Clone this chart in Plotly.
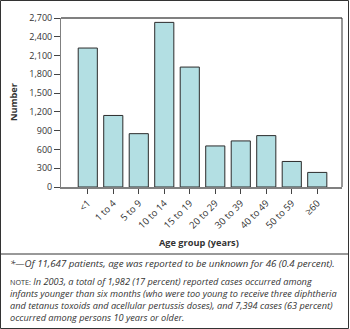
import plotly.graph_objects as go

categories = ["<1", "1 to 4", "5 to 9", "10 to 14", "15 to 19", "20 to 29",
              "30 to 39", "40 to 49", "50 to 59", "≥60"]
values = [2220, 1143, 852, 2630, 1916, 656, 736, 821, 408, 233]
y_ticks = [0, 300, 600, 900, 1200, 1500, 1800, 2100, 2400, 2700]

footnote = "*—Of 11,647 patients, age was reported to be unknown for 46 (0.4 percent)."
note_lines = [
    "In 2003, a total of 1,982 (17 percent) reported cases occurred among",
    "infants younger than six months (who were too young to receive three diphtheria",
    "and tetanus toxoids and acellular pertussis doses), and 7,394 cases (63 percent)",
    "occurred among persons 10 years or older.",
]

W, H = 350, 329
L, R, T, B = 61, 342, 18, 187

def px(x):
    return (x - L) / (R - L)

def py(y):
    return (B - y) / (B - T)

FONT = "Open Sans"
TXT = "#333333"
NOTE_SIZE = 9.2

fig = go.Figure(go.Bar(
    x=categories, y=values,
    marker=dict(color="#b3dfe3", line=dict(color="#2b2b2b", width=1)),
))

shapes = [
    dict(type="rect", xref="paper", yref="paper", x0=px(0.5), x1=px(348.5),
         y0=py(0.5), y1=py(328.5), line=dict(color="#333333", width=1)),
    dict(type="line", xref="paper", yref="paper", x0=px(0.5), x1=px(348.5),
         y0=py(254), y1=py(254), line=dict(color="#333333", width=1)),
    dict(type="line", xref="paper", yref="paper", x0=0, x1=1, y0=1, y1=1,
         line=dict(color="#808080", width=2)),
    dict(type="line", xref="paper", yref="paper", x0=1, x1=1, y0=0, y1=1,
         line=dict(color="#333333", width=1)),
]

note_text = "<br>".join(
    ("<span style='font-size:7.2px'>NOTE:</span> " if i == 0 else "") + "<i>" + line + "</i>"
    for i, line in enumerate(note_lines)
)

annotations = [
    dict(text="<b>Age group (years)</b>", x=px(199), y=py(242), xref="paper", yref="paper",
         showarrow=False, font=dict(family=FONT, size=9.2, color=TXT), xanchor="center", yanchor="middle"),
    dict(text="<b>Number</b>", x=px(13), y=py(102), xref="paper", yref="paper", textangle=-90,
         showarrow=False, font=dict(family=FONT, size=9.2, color=TXT), xanchor="center", yanchor="middle"),
    dict(text="<i>" + footnote + "</i>", x=px(8), y=py(263), xref="paper", yref="paper",
         showarrow=False, font=dict(family=FONT, size=9.7, color=TXT), xanchor="left", yanchor="middle"),
    dict(text=note_text, x=px(8), y=py(299.5), xref="paper", yref="paper", align="left",
         showarrow=False, font=dict(family=FONT, size=NOTE_SIZE, color=TXT),
         xanchor="left", yanchor="middle"),
]

fig.update_layout(
    width=W, height=H,
    margin=dict(l=L, r=W - R, t=T, b=H - B, pad=0),
    paper_bgcolor="white", plot_bgcolor="white",
    bargap=0.25, showlegend=False,
    shapes=shapes, annotations=annotations,
    font=dict(family=FONT, size=9, color=TXT),
    xaxis=dict(range=[-1.05, 9.97], showline=True, linecolor="#808080", linewidth=2,
               ticks="outside", ticklen=5, tickcolor="#444444", tickwidth=1,
               tickangle=-45, tickfont=dict(family=FONT, size=9.5, color=TXT),
               showgrid=False, fixedrange=True),
    yaxis=dict(range=[0, 2700], tickvals=y_ticks, ticktext=[f"{v:,}" for v in y_ticks],
               showline=True, linecolor="#808080", linewidth=1,
               ticks="outside", ticklen=6, tickcolor="#444444", tickwidth=1,
               tickfont=dict(family=FONT, size=9, color=TXT),
               showgrid=False, zeroline=False, fixedrange=True),
)

fig.write_html("out.html", config={"displayModeBar": False})
